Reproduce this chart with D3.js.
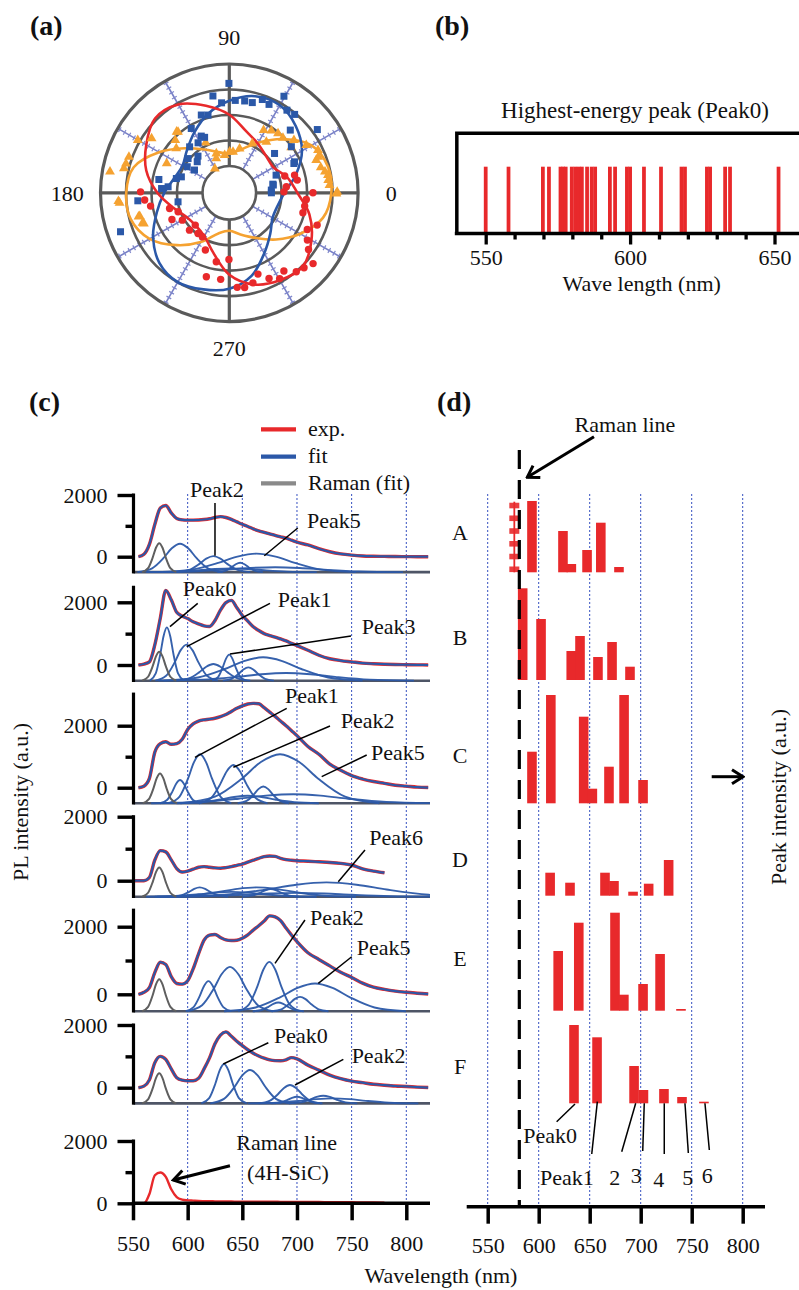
<!DOCTYPE html>
<html><head><meta charset="utf-8">
<script src="https://cdn.jsdelivr.net/npm/d3@7"></script>
<style>
html,body{margin:0;padding:0;background:#fff;}
svg{display:block;}
text{font-family:"Liberation Serif","Times New Roman",serif;fill:#111;}
</style></head>
<body>
<svg id="fig" width="799" height="1290" viewBox="0 0 799 1290"></svg>
<script>
// ================= DATA =================
// ---- (a) polar plot: fit curves sampled every 15 deg (radial units 0..4) ----
const fitAngles=[0,15,30,45,60,75,90,105,120,135,150,165,180,195,210,225,240,255,270,285,300,315,330,345];
const fitRed=[1.62,1.30,0.95,0.99,1.18,1.46,2.01,2.48,2.95,3.07,2.71,2.32,1.77,1.22,0.87,0.79,0.91,1.38,2.16,2.67,2.91,3.03,2.67,2.20];
const fitBlue=[1.11,1.65,2.24,2.64,2.91,2.87,2.56,2.16,1.69,1.30,1.07,1.18,1.50,1.89,2.40,2.83,2.99,2.87,2.71,2.32,1.69,1.22,0.91,0.91];
const fitOrange=[2.95,2.95,2.67,1.93,1.22,0.71,0.48,0.60,0.91,1.42,2.13,2.83,2.99,2.95,2.56,1.85,1.18,0.60,0.44,0.64,0.99,1.54,2.16,2.75];
// measured points [angle(deg), radius]
const ptsBlue=[[90.2,3.24],[99.6,2.80],[94.9,2.49],[86.3,2.58],[80.5,2.60],[75.7,2.60],[70.5,2.83],[65.8,2.75],[60.5,3.30],[55.1,2.90],[50.2,2.95],[109.8,2.19],[105.3,2.11],[120.6,1.88],[116.3,1.43],[114,1.33],[122,1.26],[140.3,1.05],[130.5,0.84],[135.9,0.70],[148.2,0.89],[146.8,0.58],[161.6,0.93],[164.9,1.10],[169.3,1.76],[174.4,1.36],[45.8,2.38],[35.7,3.20],[36.6,1.98],[41,1.30],[25.4,1.78],[11.2,0.69],[3.7,0.60],[130.8,1.33],[0,0.60],[185,2.55],[190,0.99],[199.7,3.48],[176.4,1.61],[10,0.70],[20.7,0.91],[24.4,1.73]];
const ptsRed=[[184.9,2.28],[189.6,2.08],[194.7,1.37],[200.3,1.09],[205,1.43],[210.2,1.08],[223.5,0.79],[223.2,1.09],[232.4,0.96],[238.5,0.97],[247.3,1.38],[259.3,1.70],[269.7,1.56],[254.7,2.36],[264.3,2.36],[274.8,2.67],[279.2,2.71],[284.7,2.60],[289.4,2.33],[294.9,2.65],[300.4,2.85],[304.9,2.69],[310.3,3.01],[314.9,3.10],[319.8,3.25],[324.4,2.77],[328.8,2.53],[339.8,2.62],[334.8,2.33],[344.8,1.94],[350,1.95],[355,1.98],[0,2.23],[1,1.09],[16.8,1.22],[10.6,1.66],[6,1.20],[179.4,2.43],[15.2,1.60]];
const ptsOrange=[[130.1,2.07],[135.7,1.91],[150.1,3.09],[145,2.67],[164.2,3.16],[167,3.19],[170,3.70],[184.3,3.31],[194.8,2.63],[199.1,2.55],[154.9,1.66],[130.8,2.11],[160.3,3.13],[140.1,1.66],[115.3,1.12],[110.8,0.39],[121,0.05],[89.5,0.56],[61.3,1.75],[55.9,1.89],[50.6,1.96],[45.7,1.96],[39.2,2.22],[31.8,2.50],[25.7,2.81],[36.2,1.96],[20.6,2.59],[15.5,2.67],[10.2,2.88],[4.4,2.89],[0.5,3.18],[65,1.08],[76.9,0.73],[84.8,0.56],[97,0.44],[108.3,0.57],[54,1.42],[185.2,3.27],[194.6,2.58],[199.8,2.51],[359.5,3.15],[12.4,2.79],[7.3,2.86],[22,2.71]];
const polarRings=[0,1,2,3,4];
const polarSpokes=[30,60,120,150,210,240,300,330];
const polarAxes=[0,90,180,270];
const polarLabels=["0","90","180","270"];

// ---- (b) Peak0 wavelengths (nm) ----
const peak0Nm=[550.0,557.9,569.8,571.9,575.9,576.8,577.7,579.8,581.0,582.2,583.3,585.1,586.7,587.9,593.0,594.8,598.9,600.0,604.8,610.7,617.8,619.0,626.6,627.7,632.9,634.6,651.4];
const bMajorTicks=[550,600,650];
const bMinorTicks=[560,570,580,590,610,620,630,640,660];

// ---- (c) spectra ----
const specNm=[550,555,560,565,570,575,580,585,590,595,600,605,610,615,620,625,630,635,640,645,650,655,660,665,670,675,680,685,690,695,700,710,720,730,740,750,760,770,780,790,800,810,820];
const specA=[null,0,80,400,1050,1580,1660,1420,1240,1195,1185,1185,1190,1205,1230,1270,1300,1270,1210,1130,1050,980,900,840,790,740,690,645,600,535,470,380,260,160,90,50,25,15,10,5,3,0,0];
const specB=[null,0,30,100,650,1500,2380,2080,1680,1560,1480,1380,1310,1250,1230,1420,1750,1990,2060,1830,1580,1400,1220,1100,1000,940,890,830,770,690,620,470,310,200,140,100,60,40,25,15,10,5,0];
const specC=[null,0,50,300,1150,1420,1480,1400,1420,1560,1880,2060,2150,2190,2210,2240,2290,2360,2460,2560,2640,2700,2720,2710,2580,2440,2300,2150,2000,1840,1680,1330,1080,760,560,390,280,200,140,80,50,20,5];
const specD=[0,0,0,100,650,940,900,650,380,270,300,360,420,440,420,400,390,410,440,480,520,580,640,700,750,770,760,700,660,640,625,610,590,570,540,490,370,300,250,null,null,null,null];
const specE=[null,0,60,200,650,950,880,520,320,300,400,750,1200,1600,1750,1770,1680,1610,1590,1600,1660,1760,1900,2030,2170,2320,2290,2180,1960,1750,1560,1230,1030,840,650,500,330,210,145,95,60,30,10];
const specF=[null,0,50,250,800,1000,900,600,320,240,220,220,300,600,950,1400,1680,1780,1640,1480,1340,1210,1100,1010,940,890,865,860,890,960,920,720,560,400,290,210,160,110,80,55,40,20,5];
const specRaman=[0,0,0,300,900,990,850,450,200,120,95,85,75,70,66,63,60,58,56,55,54,53,52,51,50,49,48,47,46,45,44,42,40,37,35,32,30,27,20,null,null,null,null];
// fitted Raman component (gray) per panel: center nm, height, half width
const ramanCenter=[574,574,574.7,574,574,574];
const ramanHeight=[940,925,960,915,947,957];
const ramanHalfWidth=[6,6,6,6,6,6];
// fitted PL components per panel
const compCenters=[[593,623.5,648,663,680,640],[581,599,623.5,638,655.5,669,690],[593,611.3,641.8,669.2,684.5,696.6,655],[611,663,676,727,640,700],[619,638.7,674.7,682.9,702.8,716.5],[633.3,657,693.6,700,724,733]];
const compHeights=[[920,520,305,600,160,120],[1700,1150,530,830,425,745,245],[750,1580,1230,540,1580,290,240],[290,290,240,447,150,120],[890,1310,1460,257,425,820],[1255,1063,585,210,245,160]];
const compHalfWidths=[[15,13,8,35,45,30],[6,11,13,6,9,35,45],[7,11,12,9,35,50,25],[10,35,10,55,30,50],[8,15,11,9,10,32],[8,14,11,9,12,30]];
const cTicks=[550,600,650,700,750,800];
const cYTicks=[0,1000,2000];
// annotations (panel index, text, label pos [nm,val], line from, line to)
const annPanel=[0,0,1,1,1,2,2,2,3,4,4,5,5];
const annText=["Peak2","Peak5","Peak0","Peak1","Peak3","Peak1","Peak2","Peak5","Peak6","Peak2","Peak5","Peak0","Peak2"];
const annLabel=[[602.1,1935],[709.2,930],[595.5,2201],[682.4,1850],[759.2,989],[689,2742],[740,1916],[767.7,894],[766.2,1116],[711.9,2050],[754.6,1163],[679,1416],[750,778]];
const annFrom=[[625,1741],[700.7,930],[609.2,1968],[675.3,1968],[749.4,925],[690.6,2561],[730.2,1990],[763.8,1055],[762.2,959],[707.3,2198],[750.1,1112],[673.8,1435],[742.4,906]];
const annTo=[[625,32],[670.1,32],[583.8,1222],[599.1,584],[638.7,351],[606.7,981],[641.8,658],[722.6,355],[737.8,-31],[679.9,917],[719.5,325],[632.6,756],[698.2,86]];
const legendLabels=["exp.","fit","Raman (fit)"];

// ---- (d) peak positions and intensities ----
const rowNames=["A","B","C","D","E","F"];
const peakNm=[[593.4,623.8,632.0,647.4,660.9,678.7],[584.3,602.3,631.9,640.5,658.1,671.9,689.5],[593.4,611.9,644.1,652.6,668.9,683.7,702.3],[611.2,630.7,665.0,673.8,692.5,707.8,727.4],[619.1,639.3,674.8,683.5,702.3,719.0,739.5],[634.6,657.2,693.5,702.7,722.8,740.5,762.0]];
const peakInt=[[0.713,0.413,0.083,0.223,0.496,0.053],[0.917,0.61,0.29,0.44,0.23,0.38,0.133],[0.516,1.083,0.866,0.146,0.366,1.083,0.233],[0.23,0.13,0.23,0.147,0.04,0.12,0.357],[0.597,0.88,0.98,0.16,0.267,0.567,0.017],[0.783,0.66,0.373,0.133,0.143,0.063,0.016]];
const ramanLineNm=581;
const ramanBarA=[576.1,0.706];
const dTicks=[550,600,650,700,750,800];
const fLabels=["Peak0","Peak1","2","3","4","5","6"];
const fLabelPos=[[584.9,-0.40],[601.3,-0.817],[669.2,-0.817],[690.2,-0.80],[712.4,-0.834],[740.8,-0.817],[759.8,-0.80]];
const fLineFrom=[[617.6,-0.184],[652,-0.507],[681.4,-0.484],[702,-0.477],[723.1,-0.507],[746.7,-0.497],[767.3,-0.467]];
const fLineTo=[[635.6,-0.007],[657.5,0.016],[695.1,0],[703.5,0],[723.1,0],[743.4,0],[763,0]];

// ================= STYLE / LAYOUT =================
const FONT='"Liberation Serif","Times New Roman",serif';
const RED="#e8292b", BLUE="#2b58a8", GRAYC="#5f5f5f", ORANGE="#f5a231", GRID="#3550c0";
const svg=d3.select("#fig");

const defs=svg.append("defs");
defs.append("marker").attr("id","chev").attr("viewBox","-14 -9 16 18").attr("refX",0).attr("refY",0)
  .attr("markerWidth",16).attr("markerHeight",18).attr("markerUnits","userSpaceOnUse").attr("orient","auto")
  .append("path").attr("d","M-11,-7 L0,0 L-11,7").attr("fill","none").attr("stroke","#000").attr("stroke-width",3);

function label(x,y,s,size,opt={}){
  const t=svg.append("text").attr("x",x).attr("y",y).text(s).attr("font-size",size).attr("font-family",FONT);
  if(opt.anchor) t.attr("text-anchor",opt.anchor);
  if(opt.bold) t.attr("font-weight","bold");
  if(opt.rotate) t.attr("transform",`rotate(${opt.rotate},${x},${y})`);
  if(opt.dy) t.attr("dy",opt.dy);
  return t;
}
// panel letters
label(30,35,"(a)",28,{bold:true});
label(435,35,"(b)",28,{bold:true});
label(29,411,"(c)",28,{bold:true});
label(437,411,"(d)",28,{bold:true});

// ================= (a) POLAR =================
(function(){
  const cx=229.3, cy=192.8;
  const rS=d3.scaleLinear().domain([0,4]).range([26.8,128.8]);
  const rad=a=>a*Math.PI/180;
  const xy=(a,v)=>[cx+rS(v)*Math.cos(rad(a)), cy-rS(v)*Math.sin(rad(a))];
  const g=svg.append("g");
  polarSpokes.forEach(a=>{
    const p0=xy(a,0), p1=xy(a,4);
    g.append("line").attr("x1",p0[0]).attr("y1",p0[1]).attr("x2",p1[0]).attr("y2",p1[1]).attr("stroke","#7880c6").attr("stroke-width",1.6);
    g.append("line").attr("x1",p0[0]).attr("y1",p0[1]).attr("x2",p1[0]).attr("y2",p1[1]).attr("stroke","#8088cc").attr("stroke-width",5.5).attr("stroke-dasharray","1.2,4.3");
  });
  g.selectAll(".ring").data(polarRings).join("circle").attr("cx",cx).attr("cy",cy).attr("r",d=>rS(d))
    .attr("fill","none").attr("stroke","#5a5a5a").attr("stroke-width",d=>d===4?3.2:2.6);
  polarAxes.forEach(a=>{
    const p0=xy(a,0), p1=xy(a,4);
    g.append("line").attr("x1",p0[0]).attr("y1",p0[1]).attr("x2",p1[0]).attr("y2",p1[1]).attr("stroke","#5a5a5a").attr("stroke-width",3.2);
  });
  const lr=d3.lineRadial().angle(d=>rad(90-d[0])).radius(d=>rS(d[1])).curve(d3.curveCatmullRomClosed.alpha(0.5));
  [[fitOrange,ORANGE],[fitBlue,BLUE],[fitRed,RED]].forEach(([arr,col])=>{
    g.append("path").attr("transform",`translate(${cx},${cy})`).attr("d",lr(fitAngles.map((a,i)=>[a,arr[i]])))
      .attr("fill","none").attr("stroke",col).attr("stroke-width",2.6);
  });
  const tri=d3.symbol().type(d3.symbolTriangle).size(42);
  g.selectAll(".po").data(ptsOrange).join("path").attr("d",tri)
    .attr("transform",d=>{const p=xy(d[0],d[1]);return `translate(${p[0]},${p[1]})`;}).attr("fill",ORANGE);
  g.selectAll(".pb").data(ptsBlue).join("rect").attr("width",7).attr("height",7)
    .attr("x",d=>xy(d[0],d[1])[0]-3.5).attr("y",d=>xy(d[0],d[1])[1]-3.5).attr("fill",BLUE);
  g.selectAll(".pr").data(ptsRed).join("circle").attr("r",3.7)
    .attr("cx",d=>xy(d[0],d[1])[0]).attr("cy",d=>xy(d[0],d[1])[1]).attr("fill",RED);
  polarLabels.forEach((s,i)=>{
    const a=polarAxes[i];
    const v=(a===0||a===180)?5.3:5.05;
    const p=xy(a,v);
    label(p[0],p[1],s,22,{anchor:"middle",dy:"0.35em"});
  });
})();

// ================= (b) =================
(function(){
  const xB=d3.scaleLinear().domain([550,650]).range([485.7,774.5]);
  const yB=d3.scaleLinear().domain([0,1.5]).range([233.5,133.3]);
  const g=svg.append("g");
  g.selectAll("rect").data(peak0Nm).join("rect")
    .attr("x",d=>xB(d-0.65)).attr("width",d=>xB(d+0.65)-xB(d-0.65))
    .attr("y",yB(1)).attr("height",yB(0)-yB(1)).attr("fill",RED);
  g.append("path").attr("d",`M${xB(540)},${yB(0)} L${xB(540)},${yB(1.5)} L799,${yB(1.5)}`).attr("fill","none").attr("stroke","#000").attr("stroke-width",3.5);
  g.append("line").attr("x1",xB(540)-2).attr("x2",799).attr("y1",yB(0)).attr("y2",yB(0)).attr("stroke","#000").attr("stroke-width",3.5);
  const ax=g.append("g").attr("transform",`translate(0,${yB(0)})`).call(d3.axisBottom(xB).tickValues(bMajorTicks).tickSize(11).tickPadding(5));
  ax.select(".domain").remove();
  ax.selectAll(".tick line").attr("stroke","#000").attr("stroke-width",3.3);
  ax.selectAll(".tick text").attr("font-size",22).attr("font-family",FONT).attr("fill","#111");
  const ax2=g.append("g").attr("transform",`translate(0,${yB(0)})`).call(d3.axisBottom(xB).tickValues(bMinorTicks).tickSize(6).tickFormat(""));
  ax2.select(".domain").remove();
  ax2.selectAll(".tick line").attr("stroke","#000").attr("stroke-width",3.3);
  label(635,118,"Highest-energy peak (Peak0)",23,{anchor:"middle"});
  label(641.7,291,"Wave length (nm)",22,{anchor:"middle"});
})();

// ================= (c) =================
const panelZeroY=[556.7,665,787.7,880.7,994.3,1087.7,1203.3];
const panelPx=[30.85,31.35,31,32,33.8,31.35,31.15];
const panelTopVal=[2000,2480,3020,2000,2490,2000,2000];
const compBase=-500;
const peakTemplate=[[-2.6,0],[-1.7,0.135],[-1,0.5],[-0.5,0.84],[0,1],[0.5,0.84],[1,0.5],[1.7,0.135],[2.6,0]];
(function(){
  const xC=d3.scaleLinear().domain([550,800]).range([133,406.3]);
  const cL=133.5, cR=430;
  defs.append("clipPath").attr("id","cclip").append("rect").attr("x",cL).attr("y",380).attr("width",cR-cL).attr("height",840);
  const g=svg.append("g");
  g.selectAll(".vg").data(cTicks.filter(d=>d>550)).join("line")
    .attr("x1",d=>xC(d)).attr("x2",d=>xC(d)).attr("y1",494).attr("y2",1203)
    .attr("stroke",GRID).attr("stroke-width",1).attr("stroke-dasharray","2,2");
  const specs=[specA,specB,specC,specD,specE,specF,specRaman];
  specs.forEach((spec,i)=>{
    const y=d3.scaleLinear().domain([0,1000]).range([panelZeroY[i],panelZeroY[i]-panelPx[i]]);
    const pg=g.append("g");
    const cg=pg.append("g").attr("clip-path","url(#cclip)");
    const isRaman=(i===6);
    const line=d3.line().defined(d=>d[1]!=null).x(d=>xC(d[0])).y(d=>y(d[1])).curve(d3.curveMonotoneX);
    if(!isRaman){
      pg.insert("line",":first-child").attr("x1",cL).attr("x2",cR).attr("y1",y(compBase)).attr("y2",y(compBase)).attr("stroke","#4e5566").attr("stroke-width",2.6);
      const mk=(c,h,w)=>peakTemplate.map(([u,f])=>[c+u*w,compBase+f*h]);
      compCenters[i].forEach((c,k)=>{
        cg.append("path").attr("d",line(mk(c,compHeights[i][k],compHalfWidths[i][k])))
          .attr("fill","none").attr("stroke",BLUE).attr("stroke-width",1.9).attr("opacity",0.95);
      });
      cg.append("path").attr("d",line(mk(ramanCenter[i],ramanHeight[i],ramanHalfWidth[i])))
        .attr("fill","none").attr("stroke",GRAYC).attr("stroke-width",2);
    }
    const pts=specNm.map((n,k)=>[n,spec[k]]);
    cg.append("path").attr("d",line(pts)).attr("fill","none").attr("stroke",RED).attr("stroke-width",isRaman?2.4:3.4);
    if(!isRaman){
      cg.append("path").attr("d",line(pts)).attr("fill","none").attr("stroke",BLUE).attr("stroke-width",2.2);
    }
    const ax=pg.append("g").attr("transform",`translate(${cL},0)`)
      .call(d3.axisLeft(y).tickValues(cYTicks).tickSize(16).tickPadding(10).tickFormat(d=>d===1000?"":d));
    ax.select(".domain").remove();
    ax.selectAll(".tick line").attr("stroke","#000").attr("stroke-width",3.4).attr("x2",d=>d===1000?-8:-16);
    ax.selectAll(".tick text").attr("font-size",22).attr("font-family",FONT).attr("fill","#111");
    const bot=isRaman?0:compBase;
    pg.append("line").attr("x1",cL).attr("x2",cL).attr("y1",y(bot)+(isRaman?1.7:1.3)).attr("y2",y(panelTopVal[i])-1.5)
      .attr("stroke","#000").attr("stroke-width",3.2);
    annPanel.forEach((p,k)=>{
      if(p!==i) return;
      pg.append("line").attr("x1",xC(annFrom[k][0])).attr("y1",y(annFrom[k][1])).attr("x2",xC(annTo[k][0])).attr("y2",y(annTo[k][1]))
        .attr("stroke","#000").attr("stroke-width",1.5);
      pg.append("text").attr("x",xC(annLabel[k][0])).attr("y",y(annLabel[k][1])).text(annText[k])
        .attr("font-size",22).attr("font-family",FONT);
    });
    if(isRaman){
      pg.append("text").attr("x",xC(690.6)).attr("y",y(1711)).attr("text-anchor","middle").text("Raman line").attr("font-size",22).attr("font-family",FONT);
      pg.append("text").attr("x",xC(691.8)).attr("y",y(748)).attr("text-anchor","middle").text("(4H-SiC)").attr("font-size",22).attr("font-family",FONT);
      pg.append("line").attr("x1",xC(638.7)).attr("y1",y(1207)).attr("x2",xC(586.9)).attr("y2",y(748))
        .attr("stroke","#000").attr("stroke-width",3).attr("marker-end","url(#chev)");
      const xa=pg.append("g").attr("transform",`translate(0,${y(0)})`)
        .call(d3.axisBottom(xC).tickValues(cTicks).tickSize(17).tickPadding(15));
      xa.select(".domain").remove();
      xa.selectAll(".tick line").attr("stroke","#000").attr("stroke-width",3.5);
      xa.selectAll(".tick text").attr("font-size",22).attr("font-family",FONT).attr("fill","#111");
      pg.append("line").attr("x1",cL-1.6).attr("x2",cR).attr("y1",y(0)).attr("y2",y(0)).attr("stroke","#000").attr("stroke-width",3.5);
    }
  });
  const legCols=[RED,BLUE,"#8a8a8a"];
  const legY=[429.3,456.7,483.3];
  legendLabels.forEach((s,i)=>{
    g.append("line").attr("x1",261).attr("x2",296).attr("y1",legY[i]).attr("y2",legY[i]).attr("stroke",legCols[i]).attr("stroke-width",4.2);
    g.append("text").attr("x",308).attr("y",legY[i]+6.2).text(s).attr("font-size",22).attr("font-family",FONT);
  });
  label(20,802,"PL intensity (a.u.)",22,{anchor:"middle",rotate:-90,dy:"0.35em"});
  label(441,1283,"Wavelength (nm)",22,{anchor:"middle"});
})();

// ================= (d) =================
(function(){
  const xD=d3.scaleLinear().domain([550,800]).range([487.7,742.7]);
  const hD=d3.scaleLinear().domain([0,1]).range([0,100]);
  const rowBaseY=[572.3,680,803.3,895.7,1010.7,1103.3];
  const rowLabelY=[540,645,763,867,966,1074];
  const axisY=1206.7;
  const g=svg.append("g");
  g.selectAll(".vg").data(dTicks).join("line")
    .attr("x1",d=>xD(d)).attr("x2",d=>xD(d)).attr("y1",494).attr("y2",axisY)
    .attr("stroke",GRID).attr("stroke-width",1).attr("stroke-dasharray","2,2");
  const bw=9.6;
  peakNm.forEach((row,r)=>{
    const base=rowBaseY[r];
    g.selectAll(null).data(row.map((n,k)=>[n,peakInt[r][k]])).join("rect")
      .attr("x",d=>xD(d[0])-bw/2).attr("width",bw)
      .attr("y",d=>base-hD(d[1])).attr("height",d=>hD(d[1])).attr("fill",RED);
    g.append("text").attr("x",460).attr("y",rowLabelY[r]).attr("text-anchor","middle").text(rowNames[r])
      .attr("font-size",22).attr("font-family",FONT);
  });
  const rx=xD(ramanBarA[0]), rb=rowBaseY[0], rh=hD(ramanBarA[1]);
  g.append("line").attr("x1",rx).attr("x2",rx).attr("y1",rb).attr("y2",rb-rh).attr("stroke",RED).attr("stroke-width",1.8);
  d3.range(6).forEach(k=>{
    g.append("rect").attr("x",rx-5).attr("width",10).attr("y",rb-3-k*(rh-3)/5.3-2.8).attr("height",5.6).attr("fill",RED).attr("opacity",0.9);
  });
  g.append("line").attr("x1",xD(ramanLineNm)).attr("x2",xD(ramanLineNm)).attr("y1",450).attr("y2",axisY)
    .attr("stroke","#000").attr("stroke-width",3.2).attr("stroke-dasharray","19,11");
  g.append("text").attr("x",xD(684.6)).attr("y",431.7).attr("text-anchor","middle").text("Raman line").attr("font-size",22).attr("font-family",FONT);
  g.append("line").attr("x1",xD(654.2)).attr("y1",436.7).attr("x2",xD(588.8)).attr("y2",477.3)
    .attr("stroke","#000").attr("stroke-width",3).attr("marker-end","url(#chev)");
  const fb=rowBaseY[5];
  fLabels.forEach((s,k)=>{
    g.append("line").attr("x1",xD(fLineFrom[k][0])).attr("y1",fb-hD(fLineFrom[k][1])).attr("x2",xD(fLineTo[k][0])).attr("y2",fb-hD(fLineTo[k][1]))
      .attr("stroke","#000").attr("stroke-width",1.5);
    g.append("text").attr("x",xD(fLabelPos[k][0])).attr("y",fb-hD(fLabelPos[k][1])).text(s).attr("font-size",22).attr("font-family",FONT);
  });
  const xa=g.append("g").attr("transform",`translate(0,${axisY})`).call(d3.axisBottom(xD).tickValues(dTicks).tickSize(17).tickPadding(14));
  xa.select(".domain").remove();
  xa.selectAll(".tick line").attr("stroke","#000").attr("stroke-width",3.5);
  xa.selectAll(".tick text").attr("font-size",22).attr("font-family",FONT).attr("fill","#111");
  g.append("line").attr("x1",466.7).attr("x2",765).attr("y1",axisY).attr("y2",axisY).attr("stroke","#000").attr("stroke-width",3.5);
  g.append("line").attr("x1",711.7).attr("x2",743).attr("y1",776.7).attr("y2",776.7).attr("stroke","#000").attr("stroke-width",3).attr("marker-end","url(#chev)");
  label(778,797,"Peak intensity (a.u.)",22,{anchor:"middle",rotate:-90,dy:"0.35em"});
})();
</script>
</body></html>
